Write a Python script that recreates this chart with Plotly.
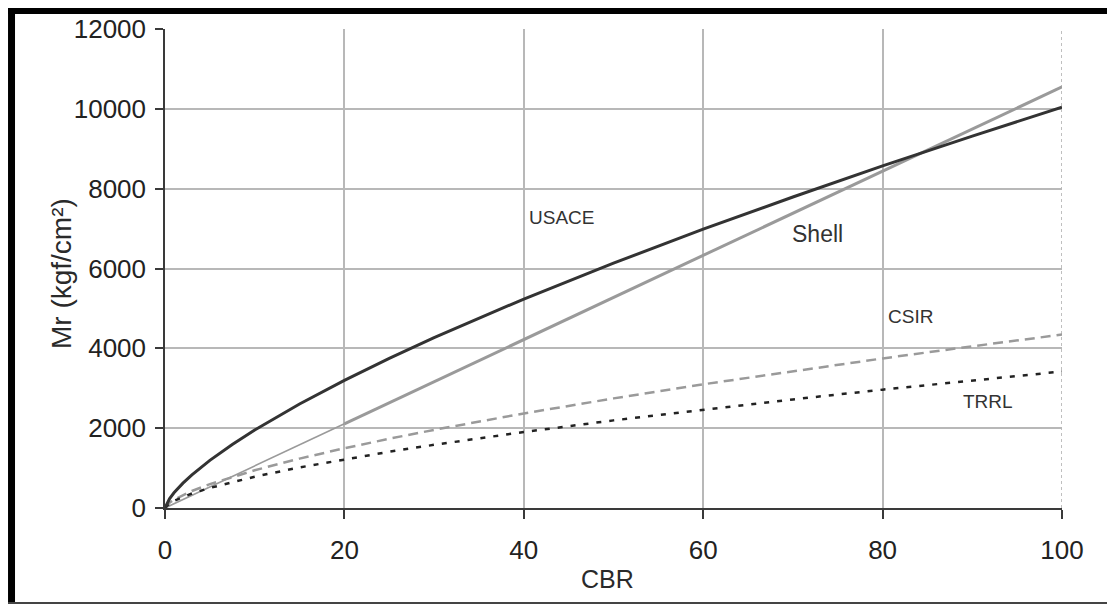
import plotly.graph_objects as go

# CBR values (x)
cbr = [0, 0.5, 1, 2, 3, 5, 7.5, 10, 15, 20, 25, 30, 40, 50, 60, 70, 80, 90, 100]
# Mr (kgf/cm2)
usace = [0, 232, 380, 622, 830, 1193, 1592, 1953, 2606, 3197, 3747, 4266, 5235, 6134, 6984, 7792, 8569, 9318, 10040]
shell = [0, 53, 106, 211, 317, 528, 791, 1055, 1583, 2110, 2638, 3165, 4220, 5275, 6330, 7385, 8440, 9495, 10550]
csir = [0, 130, 206, 326, 426, 598, 782, 946, 1237, 1497, 1735, 1958, 2369, 2746, 3099, 3430, 3747, 4051, 4344]
trrl = [0, 115, 180, 280, 363, 503, 652, 784, 1016, 1221, 1409, 1583, 1903, 2195, 2466, 2721, 2965, 3197, 3420]

x_ticks = [0, 20, 40, 60, 80, 100]
y_ticks = [0, 2000, 4000, 6000, 8000, 10000, 12000]
y_ticktext = ["0", "2000", "4000", "6000", "8000", "10000", "12000"]

labels = ["USACE", "Shell", "CSIR", "TRRL"]
label_x = [44.2, 72.7, 83.1, 91.8]
label_y = [7270, 6870, 4810, 2680]
label_size = [19, 23, 19, 19]

split = cbr.index(20)

fig = go.Figure()
fig.add_trace(go.Scatter(x=cbr[:split + 1], y=shell[:split + 1], mode="lines",
                         line=dict(color="#9a9a9a", width=1.6), showlegend=False))
fig.add_trace(go.Scatter(x=cbr[split:], y=shell[split:], mode="lines",
                         line=dict(color="#9a9a9a", width=3), showlegend=False))
fig.add_trace(go.Scatter(x=cbr, y=csir, mode="lines",
                         line=dict(color="#9a9a9a", width=2.5, dash="10px,6px"), showlegend=False))
fig.add_trace(go.Scatter(x=cbr, y=trrl, mode="lines",
                         line=dict(color="#222222", width=2.5, dash="5px,8px"), showlegend=False))
fig.add_trace(go.Scatter(x=cbr, y=usace, mode="lines",
                         line=dict(color="#333333", width=3), showlegend=False))

for t, xx, yy, s in zip(labels, label_x, label_y, label_size):
    fig.add_annotation(x=xx, y=yy, text=t, showarrow=False, xanchor="center", yanchor="middle",
                       font=dict(family="Liberation Sans, Arial", size=s, color="#333333"))

fig.add_annotation(xref="paper", yref="paper", x=-0.1159, y=0.4885, text="Mr (kgf/cm²)",
                   textangle=-90, showarrow=False, xanchor="center", yanchor="middle",
                   font=dict(family="Liberation Sans, Arial", size=28, color="#2a2a2a"))
fig.add_annotation(xref="paper", yref="paper", x=0.4928, y=-0.1482, text="CBR",
                   showarrow=False, xanchor="center", yanchor="middle",
                   font=dict(family="Liberation Sans, Arial", size=25, color="#2a2a2a"))

# frame
fig.add_shape(type="rect", xref="paper", yref="paper", x0=-0.1750, x1=-0.1672, y0=-0.2004, y1=1.0438,
              fillcolor="black", line=dict(width=0))
fig.add_shape(type="rect", xref="paper", yref="paper", x0=-0.1750, x1=1.06, y0=1.0313, y1=1.0438,
              fillcolor="black", line=dict(width=0))
fig.add_shape(type="line", xref="paper", yref="paper", x0=-0.1750, x1=1.06, y0=-0.1983, y1=-0.1983,
              line=dict(color="#444444", width=2))
# dotted right edge
fig.add_shape(type="line", xref="x", yref="paper", x0=100, x1=100, y0=0, y1=1,
              line=dict(color="#aaaaaa", width=1.5, dash="dot"), layer="between")

fig.update_xaxes(range=[0, 100], tickvals=x_ticks, showgrid=False, zeroline=False,
                 showline=True, linecolor="#3a3a3a", linewidth=1.5,
                 ticks="outside", ticklen=9, tickwidth=1.5, tickcolor="#3a3a3a",
                 ticklabelstandoff=9,
                 minor=dict(tickvals=[20, 40, 60, 80], showgrid=True, gridcolor="#b8b8b8", gridwidth=1.6, ticks=""),
                 tickfont=dict(family="Liberation Sans, Arial", size=26, color="#222222"))
fig.update_yaxes(range=[0, 12000], tickvals=y_ticks, ticktext=y_ticktext,
                 showgrid=True, gridcolor="#b8b8b8", gridwidth=1.6,
                 zeroline=False, showline=True, linecolor="#3a3a3a", linewidth=1.5,
                 ticks="outside", ticklen=8, tickwidth=1.5, tickcolor="#3a3a3a",
                 ticklabelstandoff=4,
                 tickfont=dict(family="Liberation Sans, Arial", size=26, color="#222222"))

fig.update_layout(width=1107, height=605, margin=dict(l=165, r=45, t=29, b=97),
                  paper_bgcolor="white", plot_bgcolor="white", showlegend=False)

fig.write_html("out.html")
